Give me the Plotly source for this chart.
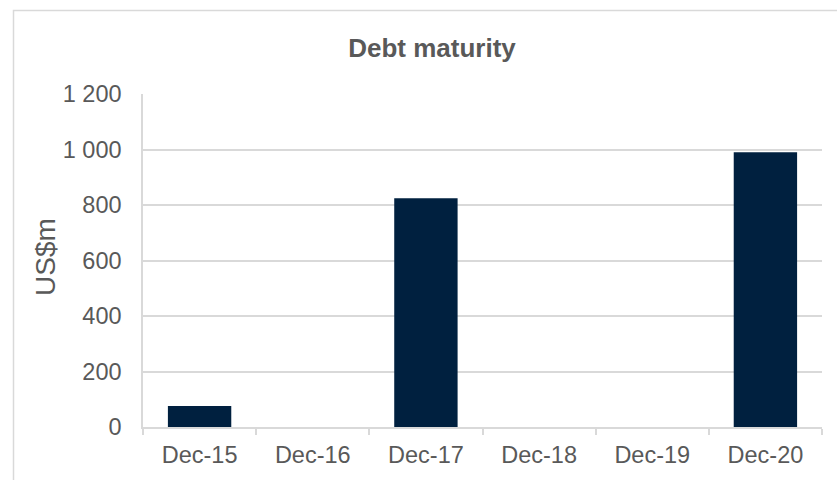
import plotly.graph_objects as go

categories = ["Dec-15", "Dec-16", "Dec-17", "Dec-18", "Dec-19", "Dec-20"]
values = [76, 0, 824, 0, 0, 990]
y_ticks = [0, 200, 400, 600, 800, 1000, 1200]

W, H = 837, 480
L, R, T, B = 143, 15, 94, 53
pw, ph = W - L - R, H - T - B

fig = go.Figure(go.Bar(x=categories, y=values, marker=dict(color="#00203F", line=dict(width=0)), width=0.56))

def px2paper_x(px):
    return (px - L) / pw

def px2paper_y(py):
    return (H - B - py) / ph

fig.add_shape(type="rect", xref="paper", yref="paper",
              x0=px2paper_x(13.5), x1=px2paper_x(900), y0=px2paper_y(600), y1=px2paper_y(10.5),
              line=dict(color="#D9D9D9", width=1.5), fillcolor="rgba(0,0,0,0)", layer="below")

fig.add_annotation(text="US$m", xref="paper", yref="paper", x=px2paper_x(45), y=px2paper_y(257),
                   xanchor="center", yanchor="middle", textangle=-90, showarrow=False,
                   font=dict(size=28, color="#595959"))

fig.update_layout(
    width=W, height=H,
    margin=dict(l=L, r=R, t=T, b=B),
    paper_bgcolor="white", plot_bgcolor="white",
    separators=". ",
    font=dict(family="Arial, Liberation Sans, sans-serif", color="#595959", size=23),
    title=dict(text="<b>Debt maturity</b>", x=432 / W, xanchor="center", xref="container",
               y=1 - 47.5 / H, yanchor="middle", yref="container",
               font=dict(size=26, color="#595959")),
    showlegend=False,
    bargap=0.44,
    xaxis=dict(showline=True, linecolor="#D9D9D9", linewidth=1.5, ticks="outside", tickson="boundaries",
               ticklen=6, tickcolor="#D9D9D9", tickwidth=1.5, showgrid=False, ticklabelstandoff=6,
               tickfont=dict(size=23.5, color="#595959")),
    yaxis=dict(range=[0, 1200], tickvals=y_ticks, tickformat=",d", showline=True, linecolor="#D9D9D9",
               linewidth=1.5, showgrid=True, gridcolor="#D9D9D9", gridwidth=1.5, zeroline=False,
               ticks="", ticklabelstandoff=15, tickfont=dict(size=23.5, color="#595959")),
)

fig.write_html("out.html", config={"displayModeBar": False},
               post_script="document.body.style.margin='0';document.body.style.overflow='hidden';")
